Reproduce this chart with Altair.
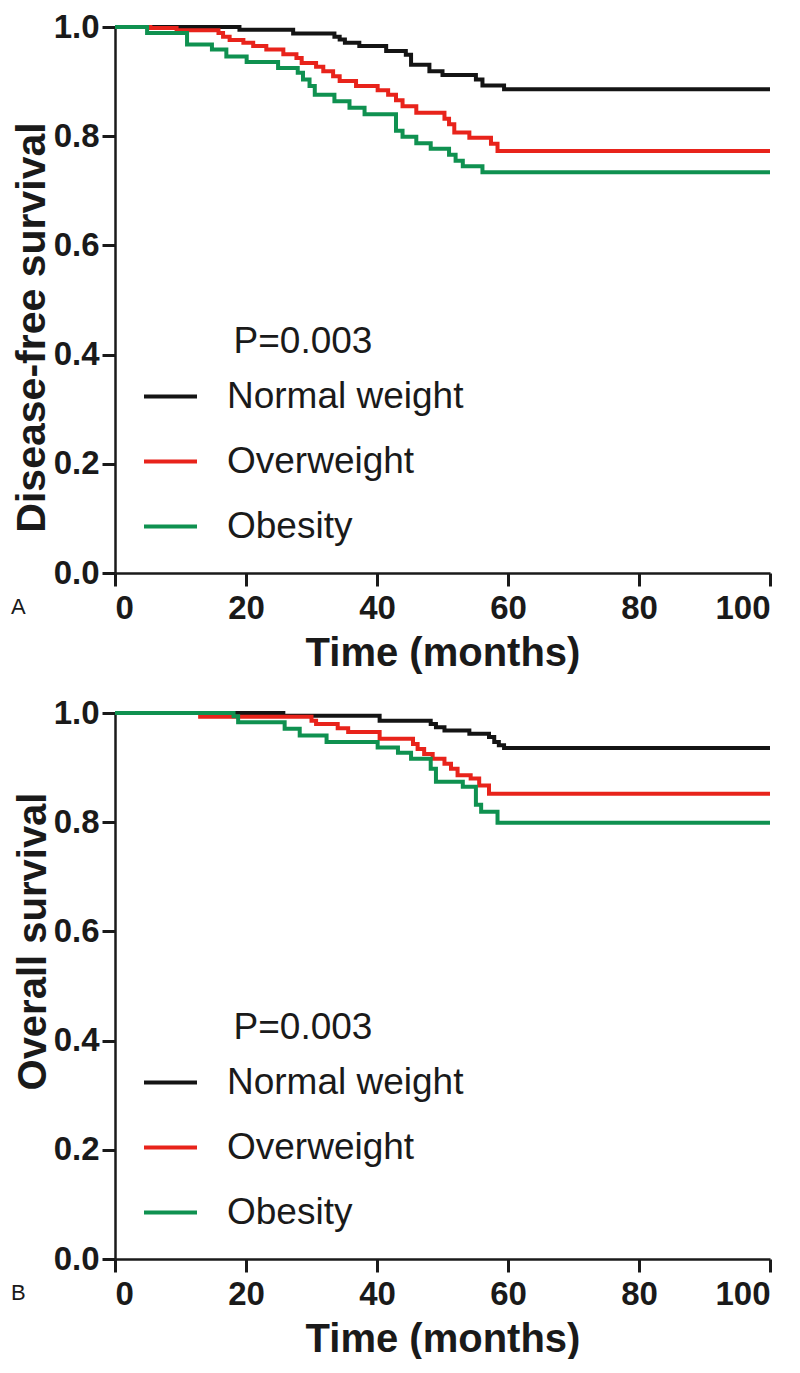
import altair as alt
import pandas as pd

groups = ["Normal weight", "Overweight", "Obesity"]
colors = ["#141414", "#e8231b", "#0f9150"]

# Panel A: disease-free survival (months, survival)
a_normal_t = [0, 19.0, 27.2, 33.5, 34.3, 35.1, 37.3, 41.4, 44.4, 45.2, 48.0, 50.0, 55.1, 56.1, 59.4, 100]
a_normal_s = [1.0, 0.995, 0.988, 0.982, 0.977, 0.971, 0.965, 0.956, 0.949, 0.931, 0.919, 0.912, 0.904, 0.893, 0.886, 0.886]
a_over_t = [0, 5.4, 9.4, 15.8, 16.5, 17.5, 19.6, 21.1, 23.1, 25.7, 27.7, 28.5, 30.7, 31.8, 33.3, 34.3, 36.8, 40.1, 41.7, 42.9,
            43.9, 46.0, 50.3, 51.0, 51.8, 54.1, 57.4, 58.4, 100]
a_over_s = [1.0, 0.998, 0.994, 0.989, 0.982, 0.976, 0.971, 0.965, 0.959, 0.950, 0.943, 0.934, 0.927, 0.919, 0.910, 0.901, 0.892, 0.884, 0.876, 0.866,
            0.855, 0.843, 0.832, 0.822, 0.807, 0.797, 0.786, 0.773, 0.773]
a_obese_t = [0, 4.9, 11.0, 14.8, 17.0, 20.1, 24.9, 27.9, 28.7, 29.7, 30.5, 33.5, 35.8, 38.1, 42.9, 43.9, 46.0, 48.2, 51.0, 52.0, 53.1, 56.1, 100]
a_obese_s = [1.0, 0.989, 0.968, 0.959, 0.946, 0.936, 0.925, 0.916, 0.904, 0.892, 0.876, 0.864, 0.852, 0.840, 0.810, 0.799, 0.787, 0.777, 0.766, 0.755, 0.745, 0.734, 0.734]

# Panel B: overall survival
b_normal_t = [0, 25.7, 40.4, 48.2, 49.0, 50.3, 54.1, 57.1, 57.9, 58.6, 59.4, 100]
b_normal_s = [1.0, 0.995, 0.986, 0.980, 0.974, 0.968, 0.962, 0.956, 0.947, 0.941, 0.936, 0.936]
b_over_t = [0, 13.0, 30.0, 30.7, 34.0, 35.6, 40.4, 45.5, 46.2, 47.2, 48.5, 50.3, 51.3, 52.3, 54.3, 55.6, 57.1, 100]
b_over_s = [1.0, 0.993, 0.986, 0.980, 0.972, 0.965, 0.953, 0.943, 0.934, 0.925, 0.916, 0.907, 0.898, 0.886, 0.880, 0.867, 0.852, 0.852]
b_obese_t = [0, 18.1, 18.8, 25.9, 28.2, 32.3, 40.1, 43.2, 45.2, 48.2, 49.0, 53.1, 55.1, 55.9, 58.4, 100]
b_obese_s = [1.0, 0.994, 0.983, 0.971, 0.959, 0.947, 0.937, 0.927, 0.916, 0.898, 0.874, 0.865, 0.832, 0.819, 0.799, 0.799]

x_ticks = [0, 20, 40, 60, 80, 100]
y_ticks = [0.0, 0.2, 0.4, 0.6, 0.8, 1.0]
p_text = "P=0.003"

FONT = "Liberation Sans, Arial, Helvetica, sans-serif"
W, H = 655, 546


def make_df(series):
    rows = []
    for name, ts, ss in series:
        for t, s in zip(ts, ss):
            rows.append({"month": t, "surv": s, "group": name})
    return pd.DataFrame(rows)


def panel(df, ytitle, letter, ytitle_size, ytitle_y):
    lines = alt.Chart(df).mark_line(interpolate="step-after", strokeWidth=4).encode(
        x=alt.X("month:Q", scale=alt.Scale(domain=[0, 100], nice=False),
                axis=alt.Axis(values=x_ticks, title="Time (months)", format="d")),
        y=alt.Y("surv:Q", scale=alt.Scale(domain=[0, 1], nice=False),
                axis=alt.Axis(values=y_ticks, format=".1f", title=ytitle,
                              titleFontSize=ytitle_size, titleY=ytitle_y)),
        color=alt.Color("group:N", sort=groups,
                        scale=alt.Scale(domain=groups, range=colors),
                        legend=alt.Legend(title=p_text, orient="none", legendX=27, legendY=297,
                                          titleFontSize=37, titleFontWeight="normal", titleFont=FONT,
                                          titleColor="#1a1a1a", titleAnchor="middle", titlePadding=7,
                                          labelFontSize=37, labelFont=FONT, labelColor="#1a1a1a",
                                          labelOffset=28, symbolType="stroke", symbolSize=2809,
                                          symbolStrokeWidth=4, rowPadding=18, padding=0,
                                          labelLimit=400)),
        order=alt.Order("month:Q"),
    )
    lab = alt.Chart(pd.DataFrame({"t": [letter]})).mark_text(
        font=FONT, fontSize=22, align="left", baseline="middle", color="#1a1a1a"
    ).encode(text="t:N", x=alt.value(-104), y=alt.value(H + 34))
    return alt.layer(lines, lab).properties(width=W, height=H)


dfA = make_df([(groups[0], a_normal_t, a_normal_s), (groups[1], a_over_t, a_over_s), (groups[2], a_obese_t, a_obese_s)])
dfB = make_df([(groups[0], b_normal_t, b_normal_s), (groups[1], b_over_t, b_over_s), (groups[2], b_obese_t, b_obese_s)])

chart = alt.vconcat(
    panel(dfA, "Disease-free survival", "A", 41, 300),
    panel(dfB, "Overall survival", "B", 40, 228),
    spacing=24,
).resolve_scale(color="independent").resolve_legend(color="independent").properties(
    padding={"left": 3, "top": 3, "right": 0, "bottom": 0}
).configure_view(stroke=None).configure_axis(
    grid=False, domainColor="#1a1a1a", domainWidth=2.5, tickColor="#1a1a1a", tickWidth=3, tickSize=13,
    labelFont=FONT, labelFontWeight="bold", labelFontSize=33, labelColor="#1a1a1a",
    titleFont=FONT, titleFontWeight="bold", titleFontSize=40, titleColor="#1a1a1a",
).configure_axisY(labelPadding=3, titlePadding=0).configure_axisX(labelPadding=6, titlePadding=8)

chart.save("out.html", embed_options={"renderer": "svg", "actions": False})
